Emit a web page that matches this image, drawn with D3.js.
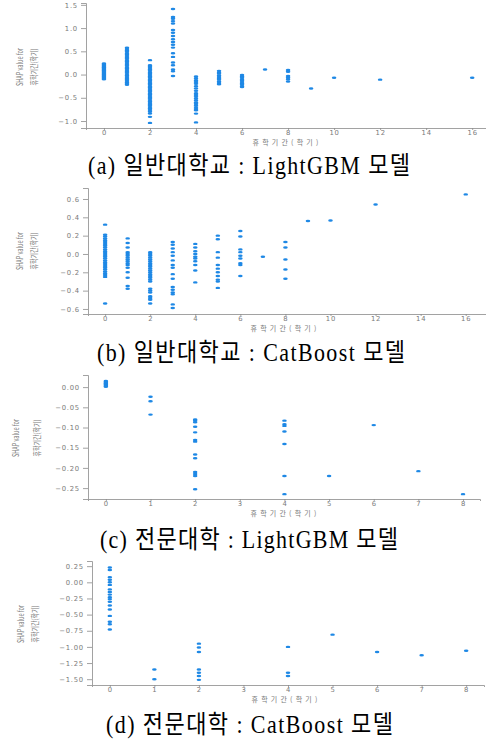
<!DOCTYPE html>
<html>
<head>
<meta charset="utf-8">
<script src="https://cdn.jsdelivr.net/npm/d3@7"></script>
<style>
  body { margin: 0; background: #fff; }
  svg { display: block; }
</style>
</head>
<body>
<svg id="chart" width="486" height="742"></svg>
<script>
// SHAP values per 휴학기간 (semester) for each panel
const shapA = {
  0: [0.24,0.22,0.2,0.18,0.16,0.14,0.12,0.1,0.08,0.06,0.04,0.02,0.0,-0.02,-0.04,-0.06,-0.08,-0.1],
  1: [0.58,0.55,0.52,0.49,0.46,0.43,0.4,0.37,0.34,0.31,0.28,0.25,0.22,0.19,0.16,0.13,0.1,0.07,0.04,0.01,-0.02,-0.05,-0.08,-0.11,-0.14,-0.17,-0.2,-0.22],
  2: [0.31,0.2,0.17,0.14,0.11,0.08,0.05,0.02,-0.01,-0.04,-0.07,-0.1,-0.13,-0.16,-0.19,-0.22,-0.25,-0.28,-0.31,-0.34,-0.37,-0.4,-0.43,-0.46,-0.49,-0.52,-0.55,-0.58,-0.61,-0.64,-0.67,-0.7,-0.73,-0.76,-0.8,-0.84,-0.91,-1.04],
  3: [1.41,1.24,1.2,1.15,1.1,0.96,0.9,0.83,0.76,0.7,0.64,0.58,0.46,0.38,0.26,0.2,0.11,0.07,-0.03],
  4: [-0.04,-0.08,-0.12,-0.16,-0.2,-0.25,-0.3,-0.35,-0.4,-0.44,-0.48,-0.52,-0.56,-0.6,-0.63,-0.66,-0.7,-0.74,-0.77,-0.84,-1.03],
  5: [0.08,0.05,0.02,-0.02,-0.05,-0.08,-0.11,-0.15,-0.18,-0.21],
  6: [-0.01,-0.04,-0.07,-0.1,-0.13,-0.16,-0.19,-0.22,-0.25,-0.27],
  7: [0.11],
  8: [0.1,0.06,-0.03,-0.07,-0.1,-0.15],
  9: [-0.3],
  10: [-0.07],
  12: [-0.11],
  16: [-0.07]
};
const shapB = {
  0: [0.32,0.21,0.19,0.17,0.15,0.13,0.11,0.09,0.07,0.05,0.03,0.01,-0.01,-0.03,-0.05,-0.07,-0.09,-0.11,-0.13,-0.15,-0.17,-0.19,-0.21,-0.23,-0.25,-0.54],
  1: [0.17,0.12,0.07,0.02,0.0,-0.02,-0.04,-0.06,-0.08,-0.1,-0.12,-0.15,-0.2,-0.26,-0.35,-0.38],
  2: [0.02,0.0,-0.02,-0.04,-0.06,-0.08,-0.1,-0.12,-0.14,-0.16,-0.18,-0.2,-0.22,-0.24,-0.26,-0.28,-0.3,-0.38,-0.4,-0.42,-0.46,-0.48,-0.5,-0.54],
  3: [0.13,0.1,0.06,0.02,-0.02,-0.07,-0.12,-0.15,-0.22,-0.27,-0.36,-0.39,-0.42,-0.44,-0.55,-0.59],
  4: [0.11,0.07,0.03,0.0,-0.03,-0.05,-0.08,-0.12,-0.18,-0.31],
  5: [0.2,0.16,0.02,-0.04,-0.12,-0.16,-0.2,-0.24,-0.28,-0.3,-0.37],
  6: [0.25,0.19,0.05,0.02,-0.02,-0.05,-0.1,-0.12,-0.24],
  7: [-0.03],
  8: [0.13,0.07,-0.06,-0.17,-0.27],
  9: [0.36],
  10: [0.365],
  12: [0.54],
  16: [0.65]
};
const shapC = {
  0: [0.015,0.013,0.011,0.009,0.007,0.005,0.003,0.001],
  1: [-0.024,-0.035,-0.068],
  2: [-0.08,-0.083,-0.087,-0.098,-0.112,-0.131,-0.135,-0.167,-0.176,-0.21,-0.215,-0.22,-0.253],
  4: [-0.083,-0.092,-0.096,-0.11,-0.141,-0.22,-0.265],
  5: [-0.22],
  6: [-0.094],
  7: [-0.208],
  8: [-0.265]
};
const shapD = {
  0: [0.23,0.19,0.08,0.04,0.0,-0.04,-0.11,-0.15,-0.19,-0.23,-0.26,-0.3,-0.36,-0.42,-0.52,-0.61,-0.65,-0.73],
  1: [-1.35,-1.5],
  2: [-0.95,-1.01,-1.08,-1.35,-1.4,-1.45,-1.51],
  4: [-1.0,-1.4,-1.45],
  5: [-0.81],
  6: [-1.08],
  7: [-1.13],
  8: [-1.06]
};

const ticksA = [-1.0, -0.5, 0.0, 0.5, 1.0, 1.5];
const ticksB = [-0.6, -0.4, -0.2, 0.0, 0.2, 0.4, 0.6];
const ticksC = [-0.25, -0.2, -0.15, -0.1, -0.05, 0.0];
const ticksD = [-1.5, -1.25, -1.0, -0.75, -0.5, -0.25, 0.0, 0.25];
const xTicksWide = [0, 2, 4, 6, 8, 10, 12, 14, 16];
const xTicksNarrow = [0, 1, 2, 3, 4, 5, 6, 7, 8];

const captions = [
  '(a) 일반대학교 : LightGBM 모델',
  '(b) 일반대학교 : CatBoost 모델',
  '(c) 전문대학 : LightGBM 모델',
  '(d) 전문대학 : CatBoost 모델'
];

const xLabel = '휴학기간(학기)';
const yLabel1 = 'SHAP value for';
const yLabel2 = '휴학기간(학기)';

const panels = [
  { data: shapA, yTicks: ticksA, xTicks: xTicksWide, fmt: '.1f',
    xDom: [-0.78, 16.6], xRange: [86, 486], yDom: [-1.15, 1.54], yRange: [128, 3],
    yl: [20, 34, 67], xl: 287, cap: [88, 174, 322] },
  { data: shapB, yTicks: ticksB, xTicks: xTicksWide, fmt: '.1f',
    xDom: [-0.76, 16.9], xRange: [88, 486], yDom: [-0.655, 0.72], yRange: [314, 188],
    yl: [20, 34, 251], xl: 285, cap: [97, 361, 308] },
  { data: shapC, yTicks: ticksC, xTicks: xTicksNarrow, fmt: '.2f',
    xDom: [-0.4, 8.38], xRange: [88, 480], yDom: [-0.277, 0.03], yRange: [499, 375],
    yl: [16, 37, 438], xl: 285, cap: [100, 548, 298] },
  { data: shapD, yTicks: ticksD, xTicks: xTicksNarrow, fmt: '.2f',
    xDom: [-0.4, 8.4], xRange: [92, 484], yDom: [-1.59, 0.33], yRange: [685, 561],
    yl: [21, 35, 624], xl: 286, cap: [106, 733, 287] }
];

const svg = d3.select('#chart');
const dotColor = '#1e88e5';
const axisColor = '#8a8a8a';
const textColor = '#7a7a7a';

panels.forEach((p, i) => {
  const x = d3.scaleLinear().domain(p.xDom).range(p.xRange);
  const y = d3.scaleLinear().domain(p.yDom).range(p.yRange);
  const g = svg.append('g');

  // points
  const pts = [];
  Object.keys(p.data).forEach(k => {
    p.data[k].forEach(v => pts.push({ x: +k, v: v }));
  });
  g.selectAll('ellipse').data(pts).enter().append('ellipse')
    .attr('cx', d => x(d.x))
    .attr('cy', d => y(d.v))
    .attr('rx', 2.3)
    .attr('ry', 1.2)
    .attr('fill', dotColor);

  // axes
  const yAxis = d3.axisLeft(y).tickValues(p.yTicks).tickFormat(d3.format(p.fmt)).tickSize(5).tickPadding(3);
  const xAxis = d3.axisBottom(x).tickValues(p.xTicks).tickSize(2).tickPadding(0.5);

  const ya = g.append('g').attr('transform', `translate(${p.xRange[0]},0)`).call(yAxis);
  const xa = g.append('g').attr('transform', `translate(0,${p.yRange[0]})`).call(xAxis);
  [ya, xa].forEach(a => {
    a.select('.domain').attr('stroke', axisColor).attr('stroke-width', 0.8);
    a.selectAll('.tick line').attr('stroke', axisColor).attr('stroke-width', 0.8);
    a.selectAll('.tick text')
      .attr('fill', textColor)
      .style('font-family', 'DejaVu Sans, sans-serif')
      .style('font-size', '6.8px')
      .style('letter-spacing', '0.8px');
  });

  // axis labels
  const yl = g.append('g')
    .style('font-family', 'Noto Sans CJK KR, Noto Sans, sans-serif')
    .style('font-size', '8.5px')
    .attr('fill', textColor);
  yl.append('text')
    .attr('transform', `translate(${p.yl[0] + 3},${p.yl[2]}) rotate(-90)`)
    .attr('text-anchor', 'middle')
    .attr('textLength', 38).attr('lengthAdjust', 'spacingAndGlyphs')
    .text(yLabel1);
  yl.append('text')
    .attr('transform', `translate(${p.yl[1] + 3},${p.yl[2]}) rotate(-90)`)
    .attr('text-anchor', 'middle')
    .attr('textLength', 37).attr('lengthAdjust', 'spacingAndGlyphs')
    .text(yLabel2);

  g.append('text')
    .attr('x', p.xl).attr('y', p.yRange[0] + 17)
    .attr('text-anchor', 'middle')
    .style('font-family', 'Noto Sans CJK KR, sans-serif')
    .style('font-size', '7px')
    .style('letter-spacing', '3.2px')
    .attr('fill', textColor)
    .text(xLabel);

  // caption, slightly stretched vertically like the source figure
  g.append('text')
    .attr('transform', `translate(${p.cap[0]},${p.cap[1]}) scale(1,1.12)`)
    .attr('textLength', p.cap[2]).attr('lengthAdjust', 'spacing')
    .style('font-family', 'Liberation Serif, Noto Sans CJK KR, serif')
    .style('font-size', '22px')
    .attr('fill', '#000')
    .text(captions[i]);
});
</script>
</body>
</html>
